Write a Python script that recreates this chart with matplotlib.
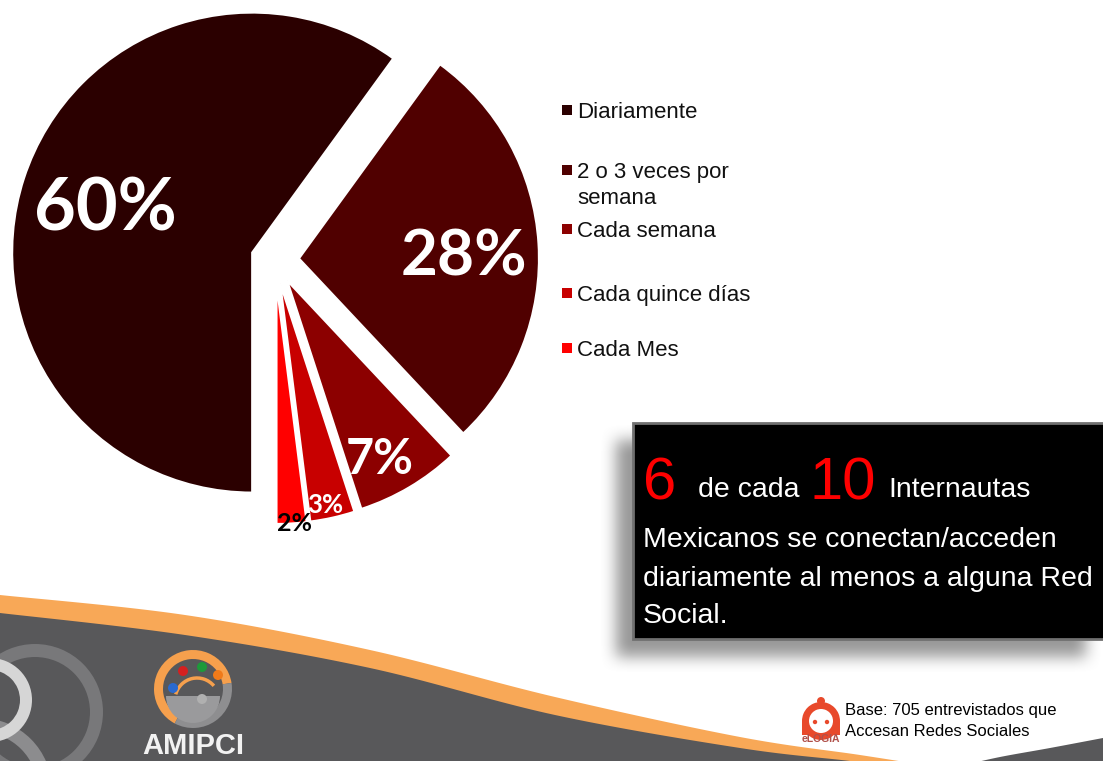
import numpy as np
import matplotlib
matplotlib.use('Agg')
import matplotlib.pyplot as plt
from matplotlib.patches import Rectangle, Wedge, Circle, Polygon, Arc

W, H = 1103, 761

# datos del grafico
categorias = ['Diariamente', '2 o 3 veces por\nsemana', 'Cada semana',
              'Cada quince días', 'Cada Mes']
porcentajes = [60, 28, 7, 3, 2]
etiquetas = ['60%', '28%', '7%', '3%', '2%']
colores = ['#2b0000', '#500000', '#8c0000', '#c80000', '#ff0000']


def Y(y):
    # coordenadas de la imagen (y hacia abajo) -> ejes (y hacia arriba)
    return H - y


def smooth(pts, n=24):
    pts = np.array(pts, float)
    P = np.vstack([pts[0], pts, pts[-1]])
    out = []
    for i in range(1, len(P) - 2):
        p0, p1, p2, p3 = P[i - 1], P[i], P[i + 1], P[i + 2]
        t = np.linspace(0, 1, n, endpoint=False)[:, None]
        out.append(0.5 * (2 * p1 + (-p0 + p2) * t + (2 * p0 - 5 * p1 + 4 * p2 - p3) * t ** 2
                          + (-p0 + 3 * p1 - 3 * p2 + p3) * t ** 3))
    out.append(pts[-1:])
    xy = np.vstack(out)
    xy[:, 1] = H - xy[:, 1]
    return xy


fig = plt.figure(figsize=(W / 100, H / 100), dpi=100)
ax = fig.add_axes([0, 0, 1, 1])

# pastel (explode va en las mismas unidades que el radio)
R = 240
wedges, _ = ax.pie(porcentajes, colors=colores, startangle=-90, counterclock=False,
                   explode=[0.1 * R] * 5, center=(275, Y(260)), radius=R,
                   wedgeprops=dict(edgecolor='white', linewidth=1.5))

dist = [0.638, 0.688, 0.838, 0.943, 1.0]
giro = [1.8, -3.1, -3.1, -1.2, 0.8]
tam = [52, 46, 35, 18.5, 18]
col_txt = ['white', 'white', 'white', 'white', 'black']
for w, lab, d, g, s, c in zip(wedges, etiquetas, dist, giro, tam, col_txt):
    ang = np.deg2rad((w.theta1 + w.theta2) / 2 + g)
    cx, cy = w.center
    ax.text(cx + d * R * np.cos(ang), cy + d * R * np.sin(ang), lab,
            ha='center', va='center', fontsize=s, color=c,
            family='Lato', weight='bold', zorder=5)

# leyenda
ley_y = [110, 170, 229, 293, 348]
for lab, col, yy in zip(categorias, colores, ley_y):
    ax.add_patch(Rectangle((562, Y(yy) - 5), 10, 10, color=col, lw=0))
    for j, linea in enumerate(lab.split('\n')):
        ax.text(577, Y(yy + 8 + 26 * j), linea, ha='left', va='baseline', fontsize=16,
                family='Liberation Sans', color='#111111')

# sombra del recuadro
sx0, sx1, sy0, sy1 = 580, 1110, 415, 690
gx = np.arange(sx0, sx1)
gy = np.arange(sy0, sy1)
mask = ((gx[None, :] >= 616) & (gx[None, :] <= 1085) &
        (gy[:, None] >= 440) & (gy[:, None] <= 656)).astype(float)
k = np.ones(17) / 17
for _ in range(2):
    mask = np.apply_along_axis(lambda r: np.convolve(r, k, mode='same'), 1, mask)
    mask = np.apply_along_axis(lambda r: np.convolve(r, k, mode='same'), 0, mask)
img = np.zeros(mask.shape + (4,))
img[..., :3] = 0.5
img[..., 3] = mask * 0.8
ax.imshow(img, extent=(sx0, sx1, Y(sy1), Y(sy0)), origin='upper', zorder=2,
          interpolation='bilinear')

ax.add_patch(Rectangle((633, Y(639)), 480, 216, facecolor='black',
                       edgecolor='#707070', lw=2, zorder=3))

ax.text(643, Y(499), '6', color='#ff0000', fontsize=43, family='Liberation Sans', zorder=4)
ax.text(698, Y(497), 'de cada', color='white', fontsize=20.5, family='Liberation Sans', zorder=4)
ax.text(810, Y(499), '10', color='#ff0000', fontsize=43, family='Liberation Sans', zorder=4)
ax.text(888, Y(497), 'Internautas', color='white', fontsize=20.5, family='Liberation Sans', zorder=4)
cuerpo = ['Mexicanos se conectan/acceden', 'diariamente al menos a alguna Red', 'Social.']
for linea, yb in zip(cuerpo, [547, 586, 623]):
    ax.text(643, Y(yb), linea, color='white', fontsize=20.5, family='Liberation Sans', zorder=4)

# banda inferior
naranja = smooth([(0, 595), (185, 615), (370, 650), (555, 697), (740, 737), (860, 755), (930, 766)])
gris = smooth([(0, 613), (185, 635), (370, 668), (555, 715), (740, 748), (850, 761), (900, 768)])
gris2 = smooth([(960, 766), (1000, 757), (1050, 748), (1103, 738)])
ax.add_patch(Polygon(np.vstack([naranja, [(930, -20), (0, -20)]]), color='#f8a857', lw=0, zorder=1))
ax.add_patch(Polygon(np.vstack([gris, [(900, -20), (0, -20)]]), color='#58585a', lw=0, zorder=1))
ax.add_patch(Polygon(np.vstack([gris2, [(1110, 738), (1110, -20), (960, -20)]]),
                     color='#58585a', lw=0, zorder=1))

# anillos decorativos
ax.add_patch(Wedge((-20, Y(790)), 72, 0, 360, width=14, color='#8c8c8e', lw=0, zorder=1.2))
ax.add_patch(Wedge((35, Y(712)), 68, 0, 360, width=13, color='#78787a', lw=0, zorder=1.1))
ax.add_patch(Wedge((-10, Y(700)), 42, 0, 360, width=12, color='#d6d6d6', lw=0, zorder=1.3))

# logo AMIPCI
lc = (193, Y(689))
ax.add_patch(Wedge(lc, 39, 9, 242, width=9, color='#f6a04d', lw=0, zorder=1.5))
ax.add_patch(Wedge(lc, 39, 242, 369, width=9, color='#8e8e90', lw=0, zorder=1.5))
ax.add_patch(Wedge((193, Y(696)), 27, 180, 360, color='#9a9a9c', lw=0, zorder=1.5))
ax.add_patch(Arc((197, Y(700)), 44, 44, theta1=40, theta2=165, color='#f6a04d', lw=2.5, zorder=1.5))
for (px, py), pc in zip([(183, 671), (202, 667), (218, 675), (173, 688), (202, 699)],
                        ['#d42020', '#1e9a3a', '#f07a1a', '#2a6ad0', '#b0b0b0']):
    ax.add_patch(Circle((px, Y(py)), 5, color=pc, lw=0, zorder=1.6))
ax.text(193, Y(754), 'AMIPCI', color='#f2f2f2', fontsize=21, weight='bold',
        family='Liberation Sans', ha='center', va='baseline', zorder=1.6)

# logo eLogia y base
ax.add_patch(Wedge((821, Y(721)), 19, 0, 360, width=7, color='#e8492b', lw=0, zorder=2))
ax.add_patch(Rectangle((802, Y(735)), 7, 14, color='#e8492b', lw=0, zorder=2))
ax.add_patch(Rectangle((833, Y(735)), 7, 14, color='#e8492b', lw=0, zorder=2))
ax.add_patch(Circle((821, Y(701)), 4, color='#e8492b', lw=0, zorder=2))
ax.add_patch(Circle((815, Y(722)), 2.2, color='#e8492b', lw=0, zorder=2.1))
ax.add_patch(Circle((827, Y(722)), 2.2, color='#e8492b', lw=0, zorder=2.1))
ax.text(821, Y(742), 'eLOGIA', color='#b0504a', fontsize=7.5, weight='bold',
        family='Liberation Sans', ha='center', va='baseline', zorder=2.1)
ax.text(845, Y(715), 'Base: 705 entrevistados que', fontsize=12, family='Liberation Sans',
        color='black', zorder=2)
ax.text(845, Y(736), 'Accesan Redes Sociales', fontsize=12, family='Liberation Sans',
        color='black', zorder=2)

ax.set_xlim(0, W)
ax.set_ylim(0, H)
ax.set_aspect('auto')
ax.axis('off')

fig.savefig('out.png', dpi=100)
